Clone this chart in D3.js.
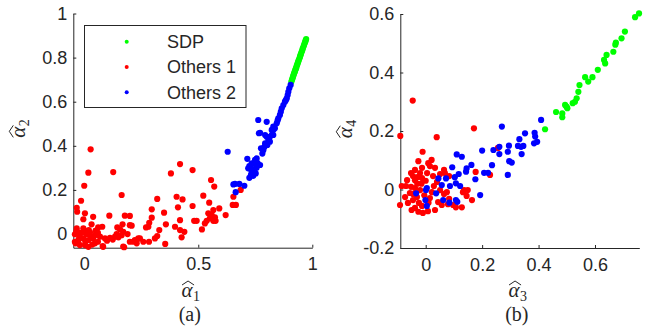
<!DOCTYPE html>
<html>
<head>
<meta charset="utf-8">
<script src="https://cdn.jsdelivr.net/npm/d3@7"></script>
<style>
  html, body { margin: 0; padding: 0; background: #fff; }
  svg { display: block; }
</style>
</head>
<body>
<svg id="chart" width="651" height="328"></svg>
<script>
// ---- Panel (a): alpha1 vs alpha2 ----
const sdpA = [
  [0.908,0.690],[0.911,0.699],[0.913,0.705],[0.915,0.712],[0.917,0.718],[0.919,0.724],
  [0.921,0.731],[0.923,0.735],[0.925,0.742],[0.927,0.748],[0.929,0.752],[0.931,0.760],
  [0.933,0.766],[0.935,0.771],[0.937,0.778],[0.939,0.783],[0.941,0.790],[0.944,0.797],
  [0.946,0.804],[0.948,0.810],[0.950,0.816],[0.952,0.823],[0.955,0.830],[0.957,0.837],
  [0.959,0.843],[0.962,0.851],[0.964,0.858],[0.967,0.866],[0.969,0.872],[0.971,0.878],
  [0.973,0.884]
];
const others1A = [
  [0.028,0.384],[0.018,0.278],[0.127,0.281],[0.000,0.219],[0.164,0.177],[-0.014,0.151],
  [-0.033,0.119],[-0.031,0.101],[0.003,0.094],[0.039,0.078],[-0.004,0.067],[0.110,0.083],
  [0.178,0.083],[0.200,0.082],[0.032,0.044],[-0.033,0.026],[-0.004,0.026],[0.061,0.030],
  [0.079,0.033],[0.168,0.044],[0.208,0.038],[0.157,0.021],[-0.041,-0.001],[-0.011,0.006],
  [0.011,-0.001],[0.025,0.008],[0.047,-0.005],[0.069,-0.012],[0.091,-0.020],[0.113,-0.017],
  [0.135,-0.012],[0.142,0.000],[0.164,-0.005],[0.171,0.010],[-0.004,-0.020],[0.018,-0.027],
  [0.039,-0.020],[-0.041,-0.035],[-0.026,-0.042],[0.003,-0.050],[0.018,-0.058],[0.047,-0.042],
  [0.083,-0.058],[0.171,-0.057],[0.200,-0.035],[0.222,-0.027],[0.244,-0.020],[0.281,0.033],
  [0.296,0.112],[0.320,0.159],[0.296,0.074],[0.285,0.051],[0.271,0.030],[0.329,0.018],
  [0.320,-0.009],[0.310,-0.020],[0.350,0.097],[0.358,0.044],[0.380,0.275],[0.420,0.317],
  [0.405,0.169],[0.431,0.157],[0.411,0.121],[0.398,0.033],[0.420,0.063],[0.420,0.018],
  [0.439,0.010],[0.427,-0.015],[0.355,-0.045],[0.475,0.290],[0.475,0.127],[0.482,0.060],
  [0.556,0.245],[0.570,0.215],[0.522,0.174],[0.548,0.142],[0.566,0.109],[0.592,0.116],
  [0.544,0.094],[0.559,0.086],[0.573,0.076],[0.551,0.071],[0.537,0.060],[0.566,0.060],
  [0.620,0.086],[0.493,0.060],[0.529,0.048],[0.516,0.021],[0.654,0.169],[0.651,0.132],
  [0.665,0.132],[0.686,0.200],[0.576,0.060],[0.215,-0.035],[0.230,-0.042],[0.237,-0.020],
  [0.259,-0.035],[0.284,-0.035],[0.175,-0.060],[0.081,-0.055],[-0.019,-0.050],[-0.038,-0.042],
  [0.010,0.012],[-0.030,0.010],[0.060,0.005],[0.100,-0.030],[0.125,-0.025],[0.150,-0.015],
  [0.060,-0.035],[-0.020,-0.012],[0.030,-0.010],[0.145,0.030],[0.190,0.000],[0.200,0.040],
  [-0.025,-0.025],[0.005,-0.035],[0.035,-0.048],[-0.035,0.012],[0.020,0.018],[0.050,0.015]
];
const others2A = [
  [0.629,0.373],[0.661,0.227],[0.680,0.227],[0.702,0.219],[0.664,0.190],[0.654,0.225],
  [0.715,0.341],[0.724,0.308],[0.734,0.283],[0.724,0.255],[0.741,0.264],[0.752,0.275],
  [0.771,0.313],[0.749,0.336],[0.756,0.343],[0.775,0.389],[0.766,0.457],[0.800,0.441],
  [0.793,0.411],[0.803,0.404],[0.814,0.419],[0.822,0.449],[0.829,0.472],[0.719,0.298],
  [0.734,0.321],[0.739,0.293],[0.731,0.268],[0.763,0.517],[0.800,0.509],[0.771,0.459],
  [0.793,0.449],[0.814,0.441],[0.829,0.449],[0.829,0.487],[0.822,0.472],[0.844,0.502],
  [0.851,0.525],[0.858,0.540],[0.866,0.570],[0.873,0.585],[0.880,0.600],[0.888,0.615],
  [0.892,0.630],[0.895,0.645],[0.899,0.661],[0.905,0.676],[0.741,0.318],[0.745,0.290],
  [0.756,0.301],[0.760,0.322],[0.781,0.365],[0.785,0.380],[0.790,0.395],[0.808,0.425],
  [0.836,0.480],[0.848,0.515],[0.862,0.555],[0.884,0.607]
];

// ---- Panel (b): alpha3 vs alpha4 ----
const sdpB = [
  [0.756,0.602],[0.742,0.589],[0.706,0.540],[0.694,0.517],[0.674,0.502],[0.672,0.495],
  [0.665,0.471],[0.641,0.460],[0.636,0.431],[0.632,0.443],[0.610,0.409],[0.591,0.384],
  [0.576,0.369],[0.565,0.384],[0.545,0.357],[0.541,0.334],[0.535,0.312],[0.529,0.300],
  [0.521,0.295],[0.502,0.278],[0.494,0.289],[0.499,0.283],[0.484,0.260],[0.484,0.247],
  [0.462,0.265],[0.423,0.206]
];
const others1B = [
  [-0.046,0.304],[-0.090,0.183],[0.039,0.179],[0.171,0.209],[-0.011,0.129],[-0.026,0.097],
  [0.015,0.080],[0.009,0.090],[0.021,0.101],[0.033,0.074],[0.065,0.067],[0.068,0.056],
  [0.051,0.053],[-0.013,0.074],[-0.038,0.067],[-0.052,0.056],[-0.020,0.056],[0.005,0.056],
  [-0.085,0.012],[-0.091,-0.053],[0.177,0.060],[0.228,0.050],[0.145,-0.022],[0.149,-0.002],
  [0.128,-0.061],[0.107,-0.061],[0.097,-0.053],[0.079,-0.050],[0.057,-0.053],[0.033,-0.070],
  [-0.026,-0.076],[-0.050,-0.070],[-0.038,-0.063],[-0.010,-0.080],[0.008,-0.074],[-0.045,-0.036],
  [-0.056,-0.012],[-0.052,0.009],[-0.038,0.032],[-0.027,0.043],[-0.013,0.039],[-0.045,0.046],
  [-0.066,0.032],[-0.070,0.012],[-0.073,-0.026],[-0.063,-0.046],[-0.031,-0.026],[-0.020,-0.002],
  [-0.038,0.005],[-0.024,-0.046],[-0.013,-0.056],[0.015,-0.029],[0.022,-0.009],[0.029,0.012],
  [0.040,0.026],[0.051,-0.002],[0.065,-0.015],[0.075,-0.009],[0.083,-0.032],[0.044,-0.043],
  [0.136,-0.002],[0.132,-0.009],[0.164,-0.036],[0.026,0.046],[0.083,0.046],[0.256,0.142],
  [-0.030,0.020],[-0.005,-0.020],[0.010,-0.045],[-0.045,-0.015],[-0.015,0.020],[0.000,0.030]
];
const others2B = [
  [0.409,0.238],[0.395,0.163],[0.384,0.158],[0.386,0.194],[0.388,0.181],[0.352,0.192],
  [0.332,0.172],[0.327,0.149],[0.338,0.146],[0.346,0.149],[0.340,0.121],[0.270,0.215],
  [0.261,0.146],[0.261,0.121],[0.240,0.135],[0.295,0.150],[0.291,0.129],[0.296,0.097],
  [0.305,0.092],[0.235,0.083],[0.200,0.133],[0.162,0.084],[0.145,0.072],[0.128,0.112],
  [0.110,0.120],[0.094,0.076],[0.221,0.057],[0.207,0.057],[0.291,0.050],[0.143,0.061],
  [0.117,0.053],[0.103,0.042],[0.107,0.021],[0.122,0.012],[0.086,0.012],[0.176,0.035],
  [0.193,-0.019],[0.072,0.038],[0.045,0.038],[0.057,0.015],[0.037,-0.013],[0.001,-0.002],
  [0.004,0.005],[-0.034,-0.013],[-0.001,-0.036],[0.004,-0.056],[0.062,-0.036],[0.084,-0.045],
  [0.107,-0.036],[0.112,-0.042]
];

// Tick values and legend entries
const xTicksA = [0, 0.5, 1];
const yTicksA = [0, 0.2, 0.4, 0.6, 0.8, 1];
const xTicksB = [0, 0.2, 0.4, 0.6];
const yTicksB = [-0.2, 0, 0.2, 0.4, 0.6];
const legendLabels = ["SDP", "Others 1", "Others 2"];
const seriesColors = ["#00ff00", "#ff0000", "#0000ff"];

const svg = d3.select("#chart");
const axisColor = "#262626";
const tickFont = "Liberation Sans, Arial, sans-serif";
const mathFont = "Liberation Serif, Times New Roman, serif";

const panels = [
  { xDom: [-0.048, 1], yDom: [-0.062, 1], xR: [73.3, 312.3], yR: [247.7, 13.5],
    xT: xTicksA, yT: yTicksA, series: [sdpA, others1A, others2A],
    xSub: "1", ySub: "2", tag: "(a)" },
  { xDom: [-0.09, 0.757], yDom: [-0.2, 0.6], xR: [400.3, 639.3], yR: [248, 14],
    xT: xTicksB, yT: yTicksB, series: [sdpB, others1B, others2B],
    xSub: "3", ySub: "4", tag: "(b)" }
];

// Math label: italic alpha with a wide hat and a subscript, centred on (0,0) baseline of the group
function mathLabel(parent, sub) {
  const g = parent.append("g");
  const a = g.append("text").attr("x", 0).attr("y", 0).attr("fill", axisColor)
    .style("font-family", mathFont).style("font-size", "21px").style("font-style", "italic")
    .text("\u03b1");
  const w = a.node().getComputedTextLength();
  const s = g.append("text").attr("x", w + 0.5).attr("y", 3.5).attr("fill", axisColor)
    .style("font-family", mathFont).style("font-size", "14px").text(sub);
  const sw = s.node().getComputedTextLength();
  g.append("path")
    .attr("d", `M${0.5},${-12} L${w / 2 + 1},${-16} L${w + 1.5},${-12}`)
    .attr("fill", "none").attr("stroke", axisColor).attr("stroke-width", 1);
  const total = w + 0.5 + sw;
  g.selectAll("text, path").attr("transform", `translate(${-total / 2},0)`);
  return g;
}

panels.forEach(p => {
  const x = d3.scaleLinear().domain(p.xDom).range(p.xR);
  const y = d3.scaleLinear().domain(p.yDom).range(p.yR);
  const g = svg.append("g");

  const fmt = d => String(d);
  const gx = g.append("g")
    .attr("transform", `translate(0,${p.yR[0]})`)
    .call(d3.axisBottom(x).tickValues(p.xT).tickFormat(fmt).tickSizeInner(-3).tickSizeOuter(0).tickPadding(10));
  const gy = g.append("g")
    .attr("transform", `translate(${p.xR[0]},0)`)
    .call(d3.axisLeft(y).tickValues(p.yT).tickFormat(fmt).tickSizeInner(-3).tickSizeOuter(0).tickPadding(6));
  [gx, gy].forEach(a => {
    a.select(".domain").attr("stroke", axisColor).attr("stroke-width", 1);
    a.selectAll(".tick line").attr("stroke", axisColor);
    a.selectAll(".tick text").attr("fill", axisColor)
      .style("font-family", tickFont).style("font-size", "18px");
  });

  // scatter series, drawn in legend order
  p.series.forEach((data, i) => {
    g.append("g").selectAll("circle").data(data).join("circle")
      .attr("cx", d => x(d[0])).attr("cy", d => y(d[1]))
      .attr("r", 3.1).attr("fill", seriesColors[i]);
  });

  const cx = (p.xR[0] + p.xR[1]) / 2;
  const cy = (p.yR[0] + p.yR[1]) / 2;
  mathLabel(g, p.xSub).attr("transform", `translate(${cx - 2},297)`);
  mathLabel(g, p.ySub).attr("transform", `translate(${p.xR[0] - 48},${cy - 2}) rotate(-90)`);

  // panel tag
  g.append("text").attr("x", cx - 3).attr("y", 321).attr("text-anchor", "middle")
    .attr("fill", axisColor).style("font-family", mathFont).style("font-size", "20px")
    .text(p.tag);
});

// legend in panel (a)
const lg = svg.append("g");
lg.append("rect").attr("x", 84.5).attr("y", 25.5).attr("width", 161.5).attr("height", 82)
  .attr("fill", "#fff").attr("stroke", axisColor).attr("stroke-width", 1);
legendLabels.forEach((name, i) => {
  const yy = 41.7 + i * 25.3;
  lg.append("circle").attr("cx", 126.7).attr("cy", yy).attr("r", 2).attr("fill", seriesColors[i]);
  lg.append("text").attr("x", 167).attr("y", yy).attr("dy", "0.35em")
    .attr("fill", axisColor).style("font-family", tickFont).style("font-size", "18px").text(name);
});
</script>
</body>
</html>
